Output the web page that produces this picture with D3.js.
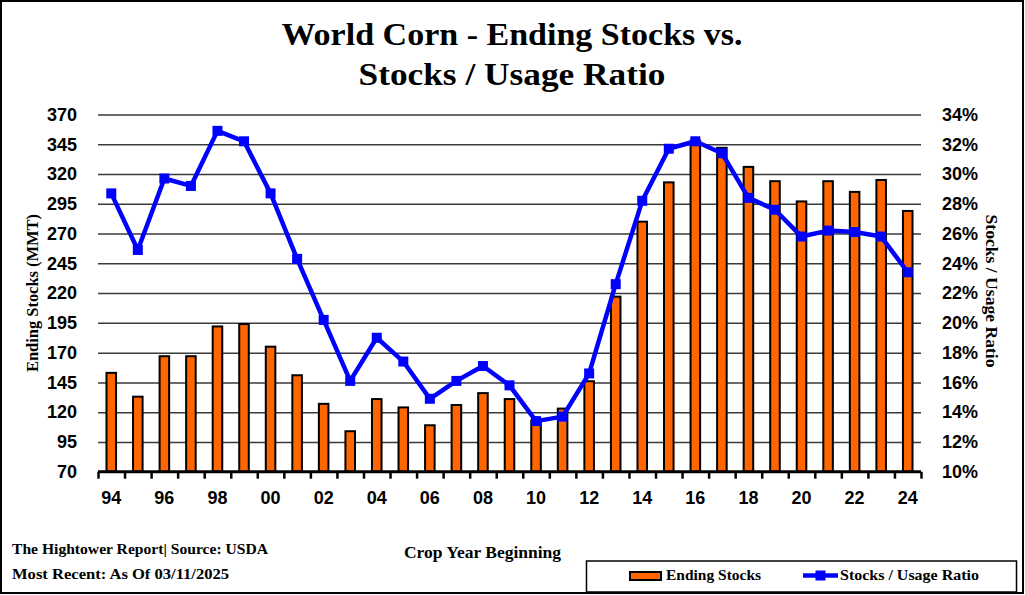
<!DOCTYPE html>
<html><head><meta charset="utf-8">
<script src="https://cdn.jsdelivr.net/npm/d3@7"></script>
<style>
html,body{margin:0;padding:0;background:#fff;}
svg{display:block;}
</style></head>
<body>
<svg id="chart" width="1025" height="595"></svg>
<script>
const years = ["94","95","96","97","98","99","00","01","02","03","04","05","06","07","08","09","10","11","12","13","14","15","16","17","18","19","20","21","22","23","24"];
const endingStocks = [153,133,167,167,192,194,175,151,127,104,131,124,109,126,136,131,113,123,146,217,280,313,348,342,326,314,297,314,305,315,289];
const stocksUsage = [28.7,24.9,29.7,29.2,32.9,32.2,28.7,24.3,20.2,16.1,19.0,17.4,14.9,16.1,17.1,15.8,13.4,13.7,16.6,22.6,28.2,31.7,32.2,31.4,28.4,27.6,25.8,26.2,26.1,25.8,23.4];
const leftTicks = [70,95,120,145,170,195,220,245,270,295,320,345,370];
const rightTicks = [10,12,14,16,18,20,22,24,26,28,30,32,34];
const xLabels = ["94","96","98","00","02","04","06","08","10","12","14","16","18","20","22","24"];

const svg = d3.select("#chart");
const L = 98, R = 921, T = 114.5, B = 471.7;

svg.append("rect").attr("x",1).attr("y",1).attr("width",1022).attr("height",592)
  .attr("fill","#fff").attr("stroke","#000").attr("stroke-width",2);

// Title
const title = svg.append("g").attr("font-family","'Liberation Serif', serif").attr("font-weight","bold")
  .attr("font-size",32).attr("text-anchor","middle").attr("fill","#000");
title.append("text").attr("x",512).attr("y",45).attr("textLength",461).attr("lengthAdjust","spacingAndGlyphs")
  .text("World Corn - Ending Stocks vs.");
title.append("text").attr("x",512).attr("y",85).attr("textLength",307).attr("lengthAdjust","spacingAndGlyphs")
  .text("Stocks / Usage Ratio");

const x = d3.scaleBand().domain(years).range([L,R]).paddingInner(0.64).paddingOuter(0.32);
const xi = d3.scaleLinear().domain([0,years.length]).range([L,R]);
const y = d3.scaleLinear().domain([70,370]).range([B,T]);
const y2 = d3.scaleLinear().domain([10,34]).range([B,T]);

// Gridlines
const grid = svg.append("g").attr("transform",`translate(${L},0)`)
  .call(d3.axisLeft(y).tickValues(leftTicks).tickSize(-(R-L)).tickFormat(""));
grid.select(".domain").remove();
grid.selectAll("line").attr("stroke","#3a3a3a").attr("stroke-width",1.5);

// Left axis labels
const la = svg.append("g").attr("transform",`translate(${L},0)`)
  .call(d3.axisLeft(y).tickValues(leftTicks).tickSize(0).tickPadding(21));
la.select(".domain").remove();
la.selectAll("text").attr("font-family","'Liberation Sans', Arial, sans-serif").attr("font-weight","bold")
  .attr("font-size",18).attr("fill","#000");

// Right axis labels
const ra = svg.append("g").attr("transform",`translate(${R},0)`)
  .call(d3.axisRight(y2).tickValues(rightTicks).tickSize(0).tickPadding(21).tickFormat(d=>d+"%"));
ra.select(".domain").remove();
ra.selectAll("text").attr("font-family","'Liberation Sans', Arial, sans-serif").attr("font-weight","bold")
  .attr("font-size",18).attr("fill","#000");

// Bars
svg.append("g").selectAll("rect").data(endingStocks).join("rect")
  .attr("x",(d,i)=>x(years[i])).attr("width",x.bandwidth())
  .attr("y",d=>y(d)).attr("height",d=>B-y(d))
  .attr("fill","#FF6600").attr("stroke","#000").attr("stroke-width",2);

// X axis ticks at category boundaries
const xt = svg.append("g").attr("transform",`translate(0,${B})`)
  .call(d3.axisBottom(xi).tickValues(d3.range(0,years.length+1)).tickSize(7).tickFormat(""));
xt.select(".domain").attr("stroke","#000").attr("stroke-width",3).attr("d",`M${L},0H${R}`);
xt.selectAll("line").attr("stroke","#000").attr("stroke-width",2.5);

// X labels
const xa = svg.append("g").attr("transform",`translate(0,${B})`)
  .call(d3.axisBottom(x).tickValues(xLabels).tickSize(0).tickPadding(20));
xa.select(".domain").remove();
xa.selectAll("text").attr("font-family","'Liberation Sans', Arial, sans-serif").attr("font-weight","bold")
  .attr("font-size",18).attr("fill","#000");

// Line
const cx = i => x(years[i]) + x.bandwidth()/2;
const line = d3.line().x((d,i)=>cx(i)).y(d=>y2(d));
svg.append("path").datum(stocksUsage).attr("d",line).attr("fill","none")
  .attr("stroke","#0000FF").attr("stroke-width",4.5).attr("stroke-linejoin","round");
svg.append("g").selectAll("rect").data(stocksUsage).join("rect")
  .attr("x",(d,i)=>cx(i)-5).attr("y",d=>y2(d)-5).attr("width",10).attr("height",10).attr("fill","#0000FF");

// Axis titles
svg.append("text").attr("transform","translate(38,293) rotate(-90)").attr("text-anchor","middle")
  .attr("font-family","'Liberation Serif', serif").attr("font-weight","600").attr("font-size",16)
  .attr("textLength",158).attr("lengthAdjust","spacingAndGlyphs").text("Ending Stocks (MMT)");
svg.append("text").attr("transform","translate(986,291) rotate(90)").attr("text-anchor","middle")
  .attr("font-family","'Liberation Serif', serif").attr("font-weight","600").attr("font-size",16)
  .attr("textLength",153).attr("lengthAdjust","spacingAndGlyphs").text("Stocks / Usage Ratio");

// Footer
const ft = svg.append("g").attr("font-family","'Liberation Serif', serif").attr("font-weight","bold").attr("fill","#000");
ft.append("text").attr("x",12).attr("y",554).attr("font-size",14.5).attr("textLength",256).attr("lengthAdjust","spacingAndGlyphs")
  .text("The Hightower Report| Source: USDA");
ft.append("text").attr("x",12).attr("y",579).attr("font-size",14.5).attr("textLength",217).attr("lengthAdjust","spacingAndGlyphs")
  .text("Most Recent: As Of 03/11/2025");
ft.append("text").attr("x",404).attr("y",558).attr("font-size",16).attr("textLength",157).attr("lengthAdjust","spacingAndGlyphs")
  .text("Crop Year Beginning");

// Legend
const lg = svg.append("g");
lg.append("rect").attr("x",586.5).attr("y",561).attr("width",430).attr("height",31)
  .attr("fill","#fff").attr("stroke","#000").attr("stroke-width",1.5);
lg.append("rect").attr("x",630).attr("y",572).attr("width",31).attr("height",8)
  .attr("fill","#FF6600").attr("stroke","#000").attr("stroke-width",2);
lg.append("text").attr("x",666).attr("y",580).attr("font-family","'Liberation Serif', serif").attr("font-weight","bold")
  .attr("font-size",15).attr("textLength",95).attr("lengthAdjust","spacingAndGlyphs").text("Ending Stocks");
lg.append("line").attr("x1",803).attr("x2",838).attr("y1",575.5).attr("y2",575.5).attr("stroke","#0000FF").attr("stroke-width",4.5);
lg.append("rect").attr("x",815.5).attr("y",570.5).attr("width",10).attr("height",10).attr("fill","#0000FF");
lg.append("text").attr("x",840).attr("y",580).attr("font-family","'Liberation Serif', serif").attr("font-weight","bold")
  .attr("font-size",15).attr("textLength",139).attr("lengthAdjust","spacingAndGlyphs").text("Stocks / Usage Ratio");
</script>
</body></html>
